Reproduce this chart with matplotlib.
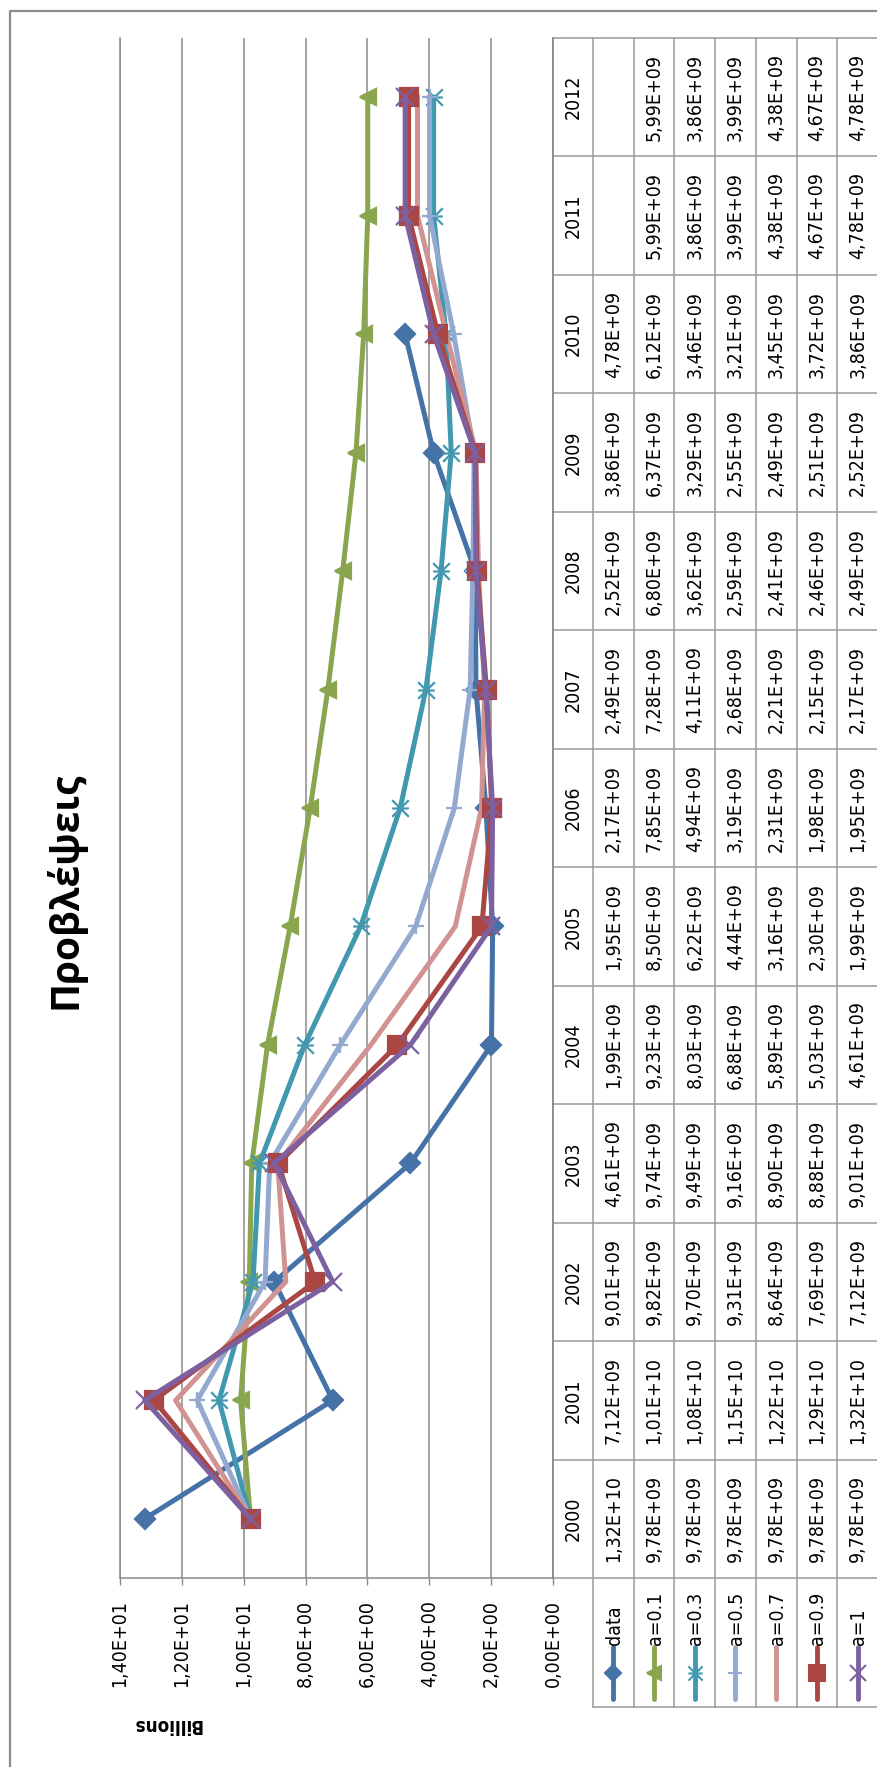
import numpy as np
import matplotlib.pyplot as plt
from matplotlib.path import Path

plt.rcParams.update({
    'font.family': ['DejaVu Sans'],
    'font.stretch': 'condensed',
    'font.size': 14,
})

# ---- data (values as shown in the data table) ----
years = [2000, 2001, 2002, 2003, 2004, 2005, 2006, 2007, 2008, 2009, 2010, 2011, 2012]
series_names = ['data', 'a=0.1', 'a=0.3', 'a=0.5', 'a=0.7', 'a=0.9', 'a=1']

data_vals = [1.32e10, 7.12e9, 9.01e9, 4.61e9, 1.99e9, 1.95e9, 2.17e9, 2.49e9, 2.52e9, 3.86e9, 4.78e9, np.nan, np.nan]
a01_vals = [9.78e9, 1.01e10, 9.82e9, 9.74e9, 9.23e9, 8.50e9, 7.85e9, 7.28e9, 6.80e9, 6.37e9, 6.12e9, 5.99e9, 5.99e9]
a03_vals = [9.78e9, 1.08e10, 9.70e9, 9.49e9, 8.03e9, 6.22e9, 4.94e9, 4.11e9, 3.62e9, 3.29e9, 3.46e9, 3.86e9, 3.86e9]
a05_vals = [9.78e9, 1.15e10, 9.31e9, 9.16e9, 6.88e9, 4.44e9, 3.19e9, 2.68e9, 2.59e9, 2.55e9, 3.21e9, 3.99e9, 3.99e9]
a07_vals = [9.78e9, 1.22e10, 8.64e9, 8.90e9, 5.89e9, 3.16e9, 2.31e9, 2.21e9, 2.41e9, 2.49e9, 3.45e9, 4.38e9, 4.38e9]
a09_vals = [9.78e9, 1.29e10, 7.69e9, 8.88e9, 5.03e9, 2.30e9, 1.98e9, 2.15e9, 2.46e9, 2.51e9, 3.72e9, 4.67e9, 4.67e9]
a10_vals = [9.78e9, 1.32e10, 7.12e9, 9.01e9, 4.61e9, 1.99e9, 1.95e9, 2.17e9, 2.49e9, 2.52e9, 3.86e9, 4.78e9, 4.78e9]

value_ticks = [0, 2, 4, 6, 8, 10, 12, 14]   # billions

all_series = [data_vals, a01_vals, a03_vals, a05_vals, a07_vals, a09_vals, a10_vals]

# Excel-like asterisk marker (chart is turned 90 deg, so bar is horizontal)
STAR = Path([(-0.5, -0.5), (0.5, 0.5), (-0.5, 0.5), (0.5, -0.5), (-0.5, 0), (0.5, 0)],
            [Path.MOVETO, Path.LINETO] * 3)

colors = ['#4572A7', '#89A54E', '#4198AF', '#93A9CF', '#D19392', '#AA4643', '#7D60A0']
markers = ['D', '<', STAR, '+', None, 's', 'x']
msizes = [10, 12, 12, 12, 0, 13, 13]
GRID = '#8a8a8a'
TAB = '#9a9a9a'


def fmt(v):
    if np.isnan(v):
        return ''
    return f'{v:.2E}'.replace('.', ',')


def filled(m):
    return 'full' if m in ('D', '<', 's') else 'none'


# ---- layout in pixels (top-left origin) ----
W, H = 878, 1767
PL, PR, PT, PB = 120, 553, 38, 1578
YEAR_R = 593
TAB_R = 878
LEG_B = 1707

fig = plt.figure(figsize=(W / 100, H / 100), dpi=100)

# overlay for frame, title and data table
ov = fig.add_axes([0, 0, 1, 1])
ov.set_xlim(0, W)
ov.set_ylim(H, 0)
ov.axis('off')

ov.plot([10, 10, W], [H, 11, 11], color='#8c8c8c', lw=1.6, solid_capstyle='butt')
ov.text(65, 890, 'Προβλέψεις', rotation=90, ha='center', va='center',
        fontsize=28, fontweight='bold', fontstretch='normal',
        family=['Open Sans', 'DejaVu Sans'])
ov.text(167, 1724, 'Billions', rotation=180, ha='center', va='center',
        fontsize=13.5, fontweight='bold')

n = len(years)
row_h = (PB - PT) / n
col_w = (TAB_R - YEAR_R) / len(series_names)

# table grid
for i in range(n + 1):
    ov.plot([PR, TAB_R], [PT + i * row_h] * 2, color=TAB, lw=1.1)
ov.plot([YEAR_R, TAB_R], [LEG_B, LEG_B], color=TAB, lw=1.1)
ov.plot([PR, PR], [PT, PB], color=TAB, lw=1.1)
for j in range(len(series_names) + 1):
    x = YEAR_R + j * col_w
    ov.plot([x, x], [PT, LEG_B], color=TAB, lw=1.1)

# year labels and cell values (2000 at the bottom)
for i, yr in enumerate(years):
    cy = PB - (i + 0.5) * row_h
    ov.text((PR + YEAR_R) / 2, cy, str(yr), rotation=90, ha='center', va='center')
    for j, vals in enumerate(all_series):
        cx = YEAR_R + (j + 0.5) * col_w
        ov.text(cx, cy, fmt(vals[i]), rotation=90, ha='center', va='center')

# legend keys in the bottom row
for j, name in enumerate(series_names):
    cx = YEAR_R + (j + 0.5) * col_w
    ov.plot([cx, cx], [1647, 1699], color=colors[j], lw=3.5, solid_capstyle='round')
    if markers[j] is not None:
        ov.plot([cx], [1673], marker=markers[j], ms=msizes[j] * 0.85, color=colors[j],
                mec=colors[j], mew=1.5, fillstyle=filled(markers[j]))
    ov.text(cx + 1, 1645, name, rotation=90, ha='center', va='bottom')

# ---- the chart itself (value axis horizontal, years vertical) ----
ax = fig.add_axes([PL / W, (H - PB) / H, (PR - PL) / W, (PB - PT) / H])
ax.set_facecolor('none')
ypos = np.arange(n)
for j, vals in enumerate(all_series):
    v = np.array(vals) / 1e9
    ax.plot(v, ypos, color=colors[j], lw=3.6, marker=markers[j], ms=msizes[j],
            mec=colors[j], mew=1.6, fillstyle=filled(markers[j]),
            solid_joinstyle='round', zorder=3 + j)

ax.set_xlim(14, 0)
ax.set_ylim(-0.5, n - 0.5)
ax.set_xticks(value_ticks)
ax.set_xticklabels([fmt(float(t)) for t in value_ticks])
ax.tick_params(axis='x', labelrotation=90, length=5, width=1, color=GRID, pad=11,
               labelsize=14)
ax.set_yticks([])
ax.grid(axis='x', color=GRID, lw=1.1)
ax.set_axisbelow(True)
for s in ['left', 'right', 'bottom']:
    ax.spines[s].set_color(GRID)
    ax.spines[s].set_linewidth(1.1)
ax.spines['top'].set_visible(False)

fig.savefig('out.png', dpi=100)
